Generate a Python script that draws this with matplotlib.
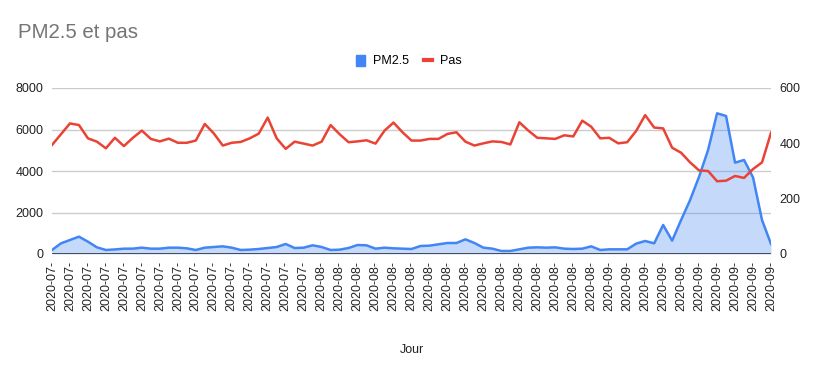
import matplotlib.pyplot as plt
import matplotlib.patches as mpatches
from matplotlib.lines import Line2D
import pandas as pd

plt.rcParams["font.family"] = ["Liberation Sans", "DejaVu Sans"]

# one point per day, 2020-07-02 .. 2020-09-20
days = pd.date_range("2020-07-02", periods=81, freq="D")

pm25 = [
    193, 514, 675, 835, 594, 321, 193, 220, 257, 257, 305, 257, 257, 305,
    305, 273, 193, 305, 337, 369, 305, 193, 209, 241, 289, 337, 482,
    289, 305, 418, 337, 193, 209, 289, 434, 418, 257, 305, 273, 257,
    241, 386, 402, 466, 530, 530, 707, 530, 305, 257, 145, 145, 225,
    305, 321, 305, 321, 257, 241, 257, 369, 193, 225, 225, 225, 500,
    627, 514, 1398, 643, 1639, 2602, 3727, 5012, 6780, 6651, 4402, 4530, 3694, 1639, 482,
]

pas = [
    394, 433, 472, 466, 418, 406, 382, 420, 390, 420, 446, 416, 407, 417,
    402, 402, 410, 470, 436, 392, 402, 405, 418, 435, 493, 418, 380,
    406, 399, 392, 406, 466, 433, 404, 407, 411, 399, 446, 475, 440,
    410, 410, 416, 416, 434, 440, 406, 392, 400, 407, 405, 396, 476,
    446, 420, 418, 416, 429, 425, 482, 460, 418, 420, 400, 404, 445,
    502, 457, 454, 384, 366, 331, 302, 300, 263, 265, 282, 275, 307, 331, 438,
]

tick_labels = [d.strftime("%Y-%m-") for d in days[::2]]

BLUE = "#4285F4"
RED = "#EA4335"
GRID = "#cccccc"

fig = plt.figure(figsize=(8.17, 3.71), dpi=100)
ax = fig.add_axes([52 / 817, 1 - 254 / 371, (771 - 52) / 817, (254 - 88) / 371])
ax2 = ax.twinx()

x = range(len(days))
ax.fill_between(x, pm25, 0, color=BLUE, alpha=0.3, linewidth=0)
ax.plot(x, pm25, color=BLUE, linewidth=1.8, zorder=3)
ax2.plot(x, pas, color=RED, linewidth=1.8, zorder=3)

ax.set_xlim(0, len(days) - 1)
ax.set_ylim(0, 8000)
ax2.set_ylim(0, 600)
ax.set_yticks([0, 2000, 4000, 6000, 8000])
ax2.set_yticks([0, 200, 400, 600])
ax.set_xticks(list(x)[::2])
ax.set_xticklabels(tick_labels, rotation=90, fontsize=9, color="#222222")

ax.grid(axis="y", color=GRID, linewidth=1)
ax.set_axisbelow(True)
ax.axhline(0, color="#333333", linewidth=1.2, zorder=4)
for a in (ax, ax2):
    for s in a.spines.values():
        s.set_visible(False)
    a.tick_params(length=0, labelsize=9, labelcolor="#222222")
ax.tick_params(axis="y", pad=6)
ax2.tick_params(axis="y", pad=6)
ax.tick_params(axis="x", pad=5)

ax.set_xlabel("Jour", fontsize=9, color="#222222", labelpad=24)

fig.text(18 / 817, 1 - 32 / 371, "PM2.5 et pas", fontsize=14.7, color="#757575",
         ha="left", va="center")

handles = [
    mpatches.Patch(color=BLUE, label="PM2.5"),
    Line2D([0], [0], color=RED, linewidth=3, label="Pas"),
]
fig.legend(handles=handles, loc="center", bbox_to_anchor=(409 / 817, 1 - 61 / 371),
           ncol=2, frameon=False, fontsize=9, handlelength=0.7, handleheight=1.0,
           columnspacing=1.2, handletextpad=0.6)

fig.savefig("out.png", dpi=100)
